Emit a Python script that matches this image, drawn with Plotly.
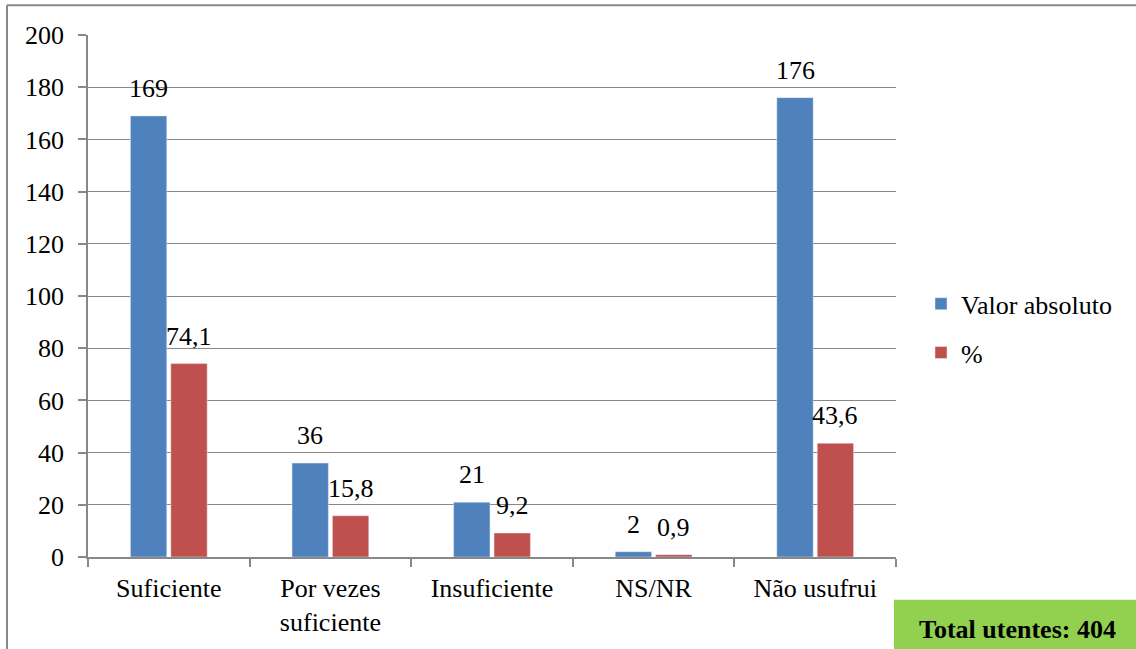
import plotly.graph_objects as go

categories = ["Suficiente", "Por vezes<br>suficiente", "Insuficiente", "NS/NR", "Não usufrui"]
valor_absoluto = [169, 36, 21, 2, 176]
percent = [74.1, 15.8, 9.2, 0.9, 43.6]
abs_labels = ["169", "36", "21", "2", "176"]
percent_labels = ["74,1", "15,8", "9,2", "0,9", "43,6"]
y_ticks = [0, 20, 40, 60, 80, 100, 120, 140, 160, 180, 200]

FONT = "Liberation Serif"
FS = 26

W, H = 1136, 649
L, R, T, B = 88, 1136 - 896, 35, 649 - 560
pw = W - L - R
ph = H - T - B
BARGAP = 0.5
slot_px = pw / len(categories) * (1 - BARGAP) / 2  # width of each bar slot in px

def px_x(px):
    return (px - L) / pw

def px_y(py):
    return (H - B - py) / ph

fig = go.Figure()
fig.add_trace(go.Bar(x=categories, y=valor_absoluto, name="Valor absoluto",
                     marker_color="#4F81BD", legendgroup="a"))
fig.add_trace(go.Bar(x=categories, y=percent, name="%",
                     marker_color="#C0504D", legendgroup="b"))

annotations = []
for cat, v, lab in zip(categories, valor_absoluto, abs_labels):
    annotations.append(dict(x=cat, y=v, text=lab, xref="x", yref="y", showarrow=False,
                            xanchor="center", yanchor="bottom", xshift=-slot_px / 2, yshift=11,
                            font=dict(family=FONT, size=FS, color="black")))
for cat, v, lab in zip(categories, percent, percent_labels):
    annotations.append(dict(x=cat, y=v, text=lab, xref="x", yref="y", showarrow=False,
                            xanchor="center", yanchor="bottom", xshift=slot_px / 2, yshift=11,
                            font=dict(family=FONT, size=FS, color="black")))
annotations.append(dict(text="<b>Total utentes: 404</b>", xref="paper", yref="paper",
                        x=px_x(1017), y=px_y(633), xanchor="center", yanchor="middle",
                        showarrow=False, font=dict(family=FONT, size=FS, color="black")))

fig.update_layout(
    width=W, height=H,
    margin=dict(l=L, r=R, t=T, b=B),
    paper_bgcolor="white", plot_bgcolor="white",
    font=dict(family=FONT, size=FS, color="black"),
    barmode="group", bargap=BARGAP, bargroupgap=0.1,
    showlegend=True,
    legend=dict(x=px_x(921), y=px_y(330), xanchor="left", yanchor="middle",
                font=dict(family=FONT, size=FS, color="black"),
                traceorder="grouped", tracegroupgap=12, itemwidth=30),
    xaxis=dict(showline=True, linecolor="#888888", linewidth=1.5,
               ticks="outside", ticklen=8, tickcolor="#888888", tickwidth=1.5,
               tickson="boundaries", showgrid=False, ticklabelstandoff=7,
               tickfont=dict(family=FONT, size=FS, color="black")),
    yaxis=dict(range=[0, 200], tickvals=y_ticks, showline=True, linecolor="#888888",
               linewidth=1.5, ticks="outside", ticklen=8, tickcolor="#888888",
               tickwidth=1.5, showgrid=True, gridcolor="#888888", gridwidth=1.2,
               zeroline=False, ticklabelstandoff=9,
               tickfont=dict(family=FONT, size=FS, color="black")),
    shapes=[
        dict(type="line", xref="paper", yref="paper",
             x0=px_x(7), x1=px_x(7), y0=px_y(660), y1=px_y(5),
             line=dict(color="#888888", width=2), layer="above"),
        dict(type="line", xref="paper", yref="paper",
             x0=px_x(7), x1=px_x(1160), y0=px_y(5), y1=px_y(5),
             line=dict(color="#888888", width=2), layer="above"),
        dict(type="rect", xref="paper", yref="paper",
             x0=px_x(894), x1=px_x(1160), y0=px_y(670), y1=px_y(603),
             line=dict(width=0), fillcolor="#92D050"),
    ],
    annotations=annotations,
)

fig.write_html("out.html", config={"displayModeBar": False},
               post_script="document.body.style.margin='0';document.body.style.overflow='hidden';document.documentElement.style.overflow='hidden';")
